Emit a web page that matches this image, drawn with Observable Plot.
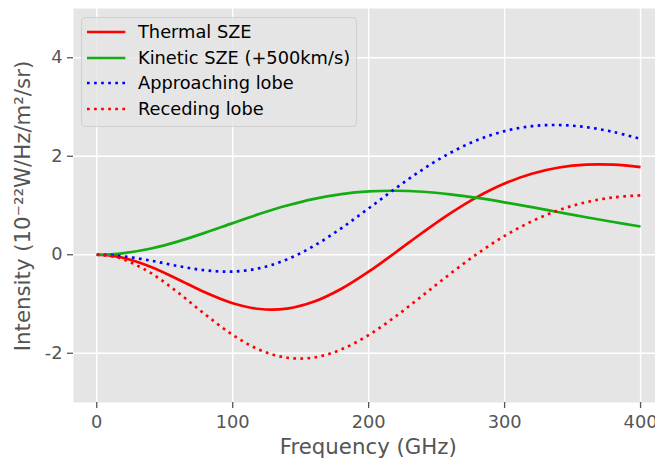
<!DOCTYPE html>
<html><head><meta charset="utf-8">
<script src="https://cdn.jsdelivr.net/npm/d3@7"></script>
<script src="https://cdn.jsdelivr.net/npm/@observablehq/plot@0.6"></script>
<style>
body{margin:0;background:#fff;overflow:hidden;}
#wrap{position:relative;width:655px;height:464px;}
#legend{position:absolute;left:81px;top:17px;width:274px;height:108px;border:1px solid #cfcfcf;border-radius:4px;background:rgba(229,229,229,0.8);font-family:"DejaVu Sans";font-size:17.8px;color:#000;}
.row{position:absolute;left:0;height:26px;width:100%;}
.row svg{position:absolute;left:4.7px;top:11px;}
.row span{position:absolute;left:56px;top:0;line-height:26px;white-space:nowrap;}
</style></head><body><div id="wrap"></div>
<script>
const freq = [0, 10, 20, 40, 60, 80, 100, 120, 140, 160, 180, 200, 220, 240, 260, 280, 300, 320, 340, 360, 380, 400];
const thermal = [0, -0.0167, -0.0658, -0.2473, -0.5009, -0.7670, -0.9840, -1.1022, -1.0925, -0.9502, -0.6905, -0.3440, 0.0514, 0.4574, 0.8406, 1.1757, 1.4463, 1.6449, 1.7709, 1.8294, 1.8291, 1.7804];
const kinetic = [0, 0.0082, 0.0327, 0.1269, 0.2713, 0.4494, 0.6422, 0.8308, 0.9987, 1.1348, 1.2312, 1.2858, 1.3000, 1.2784, 1.2272, 1.1535, 1.0643, 0.9658, 0.8636, 0.7620, 0.6645, 0.5731];
const approaching = [0, -0.0085, -0.0331, -0.1204, -0.2296, -0.3176, -0.3418, -0.2714, -0.0938, 0.1846, 0.5407, 0.9418, 1.3514, 1.7358, 2.0678, 2.3292, 2.5106, 2.6107, 2.6345, 2.5914, 2.4936, 2.3535];
const receding = [0, -0.0249, -0.0985, -0.3742, -0.7722, -1.2164, -1.6262, -1.9330, -2.0912, -2.0850, -1.9217, -1.6298, -1.2486, -0.8210, -0.3866, 0.0222, 0.3820, 0.6791, 0.9073, 1.0674, 1.1646, 1.2073];

const seriesNames = ["Thermal SZE", "Kinetic SZE (+500km/s)", "Approaching lobe", "Receding lobe"];
const seriesValues = [thermal, kinetic, approaching, receding];
const seriesColors = ["#ff0000", "#13ac13", "#0000ff", "#ff0000"];
const seriesDotted = [false, false, true, true];
const xTicks = [0, 100, 200, 300, 400];
const yTicks = [-2, 0, 2, 4];
const xLabel = "Frequency (GHz)";
const yLabel = "Intensity (10\u207B\u00B2\u00B2W/Hz/m\u00B2/sr)";

const lineW = 2.67;
const dash = "2.67,4.4";

const lineMarks = seriesNames.map((name, i) => {
  const rows = freq.map((f, j) => ({series: name, freq: f, value: seriesValues[i][j]}));
  return Plot.line(rows, {
    x: "freq", y: "value", stroke: seriesColors[i], strokeWidth: lineW,
    strokeDasharray: seriesDotted[i] ? dash : undefined,
    strokeLinecap: "butt", curve: "catmull-rom"
  });
});

const chart = Plot.plot({
  width: 655, height: 464,
  marginLeft: 73, marginRight: 0, marginTop: 8, marginBottom: 62,
  style: {fontFamily: "DejaVu Sans", fontSize: "17.8px", color: "#555", background: "#fff"},
  x: {domain: [-17.1, 411.0]},
  y: {domain: [-3, 5]},
  marks: [
    Plot.frame({fill: "#E5E5E5", stroke: "none"}),
    Plot.gridX(xTicks, {stroke: "#fff", strokeOpacity: 1, strokeWidth: 1.4}),
    Plot.gridY(yTicks, {stroke: "#fff", strokeOpacity: 1, strokeWidth: 1.4}),
    Plot.axisX(xTicks, {tickSize: 6, tickPadding: 7, label: null, fontSize: 17.8, stroke: "#555", fill: "#555", strokeWidth: 1.3, tickFormat: d => String(d)}),
    Plot.axisY(yTicks, {tickSize: 6, tickPadding: 5, label: null, fontSize: 17.8, stroke: "#555", fill: "#555", strokeWidth: 1.3, tickFormat: d => String(d)}),
    ...lineMarks,
    Plot.text([xLabel], {text: d => d, frameAnchor: "bottom", textAnchor: "middle", lineAnchor: "middle", dx: 3.8, dy: 45, fontSize: 21.3, fill: "#555"}),
    Plot.text([yLabel], {text: d => d, frameAnchor: "left", textAnchor: "middle", lineAnchor: "middle", rotate: -90, dx: -50.5, dy: 0.5, fontSize: 21.3, fill: "#555"})
  ]
});

const wrap = document.getElementById("wrap");
wrap.appendChild(chart);

// legend
const legend = document.createElement("div");
legend.id = "legend";
const rowTops = [1.3, 27.3, 52.3, 78];
seriesNames.forEach((name, i) => {
  const row = document.createElement("div");
  row.className = "row";
  row.style.top = rowTops[i] + "px";
  const ns = "http://www.w3.org/2000/svg";
  const s = document.createElementNS(ns, "svg");
  s.setAttribute("width", "40"); s.setAttribute("height", "4");
  const ln = document.createElementNS(ns, "line");
  ln.setAttribute("x1", "0"); ln.setAttribute("x2", "38.3");
  ln.setAttribute("y1", "2"); ln.setAttribute("y2", "2");
  ln.setAttribute("stroke", seriesColors[i]);
  ln.setAttribute("stroke-width", lineW);
  if (seriesDotted[i]) ln.setAttribute("stroke-dasharray", dash);
  s.appendChild(ln);
  row.appendChild(s);
  const sp = document.createElement("span");
  sp.textContent = name;
  row.appendChild(sp);
  legend.appendChild(row);
});
wrap.appendChild(legend);
</script>
</body></html>
